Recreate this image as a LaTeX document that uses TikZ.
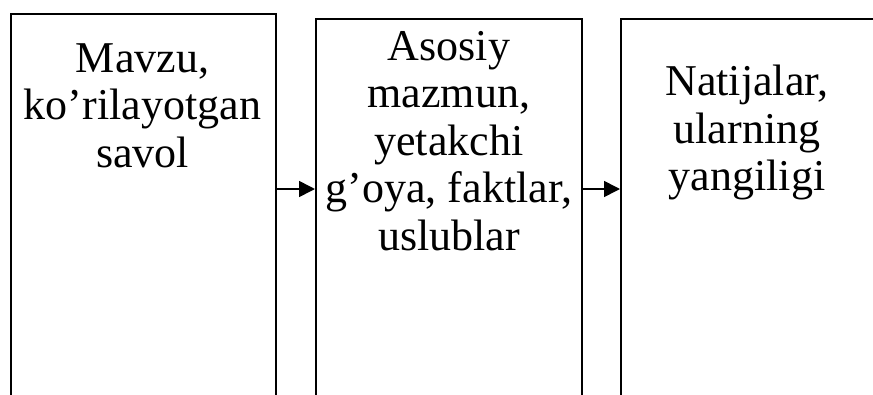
\documentclass[tikz,border=0pt]{standalone}
\usepackage{fontspec}
\setmainfont{Liberation Serif}
\usetikzlibrary{arrows.meta}
\begin{document}
\begin{tikzpicture}[x=1pt,y=-1pt,
  panel/.style={draw=black,line width=1.8pt,anchor=north west,inner sep=0pt,minimum height=430pt},
  label/.style={anchor=north,inner sep=0pt,align=center,font=\fontsize{44pt}{47.5pt}\selectfont},
  link/.style={line width=1.6pt,-{Triangle[length=16pt,width=16pt]}}]
\useasboundingbox (0,0) rectangle (873,394);
\clip (0,0) rectangle (873,394);
% three tall panels, open at the bottom of the page
\node[panel,minimum width=265pt] (b1) at (10,13) {};
\node[panel,minimum width=266pt] (b2) at (315,18) {};
\node[panel,minimum width=262pt] (b3) at (620,18) {};
% panel texts
\node[label] (t1) at (142.5,42) {\rule{0pt}{30pt}Mavzu,\\ko’rilayotgan\\savol};
\node[label] (t2) at (b2.north |- 0,30) {\rule{0pt}{30pt}Asosiy\\mazmun,\\yetakchi\\g’oya, faktlar,\\uslublar};
\node[label] (t3) at (747,65) {\rule{0pt}{30pt}Natijalar,\\ularning\\yangiligi};
% connecting arrows
\coordinate (row) at (0,189);
\draw[link] (b1.east |- row) -- (b2.west |- row);
\draw[link] (b2.east |- row) -- (b3.west |- row);
\end{tikzpicture}
\end{document}
